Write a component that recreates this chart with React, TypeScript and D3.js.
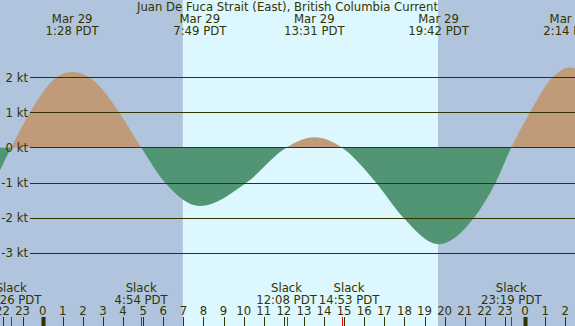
import React from "react";
import * as d3 from "d3";

const W = 575;
const H = 326;

const title = "Juan De Fuca Strait (East), British Columbia Current";

// hours relative to Mar 29 00:00 PDT, speed in knots
const curveHours = [-2.124, -1.567, -0.632, 0.697, 1.467, 2.318, 3.811, 4.9, 6.085, 7.817, 10.149, 12.133, 13.517, 14.883, 16.582, 17.94, 19.7, 21.473, 22.537, 23.317, 24.244, 25.373, 26.233, 28.0];
const curveKnots = [-0.65, 0, 1, 2, 2.15, 2, 1, 0, -1, -1.67, -1, 0, 0.29, 0, -1, -2, -2.76, -2, -1, 0, 1, 2, 2.28, 1.6];

const extremeHours = [1.467, 7.817, 13.517, 19.7, 26.233];
const extremeDates = ["Mar 29", "Mar 29", "Mar 29", "Mar 29", "Mar 30"];
const extremeLabels = ["1:28 PDT", "7:49 PDT", "13:31 PDT", "19:42 PDT", "2:14 PDT"];

const slackHours = [-1.567, 4.9, 12.133, 14.883, 23.317];
const slackLabels = ["22:26 PDT", "4:54 PDT", "12:08 PDT", "14:53 PDT", "23:19 PDT"];

const daylightStart = 6.97;
const daylightEnd = 19.67;

const yTicks = [2, 1, 0, -1, -2, -3];
const hourTicks = d3.range(-2, 27);

const NIGHT = "#b0c4de";
const DAY = "#ddf7fe";
const FLOOD = "#bf9b7a";
const EBB = "#529574";
const INK = "#333300";
const FONT = "'DejaVu Sans', sans-serif";
const FS = 11.7;

export default function App() {
  const x = d3.scaleLinear().domain([0, 24]).range([42.7, 525]);
  const y = d3.scaleLinear().domain([-3, 2]).range([252.7, 77.3]);
  const pts: [number, number][] = curveHours.map((h, i) => [h, curveKnots[i]]);
  const area = d3
    .area<[number, number]>()
    .x((d) => x(d[0]))
    .y0(y(0))
    .y1((d) => y(d[1]))
    .curve(d3.curveMonotoneX);
  const areaPath = area(pts) || "";
  const y0 = y(0);

  // slack label placement: push a label right if it would overlap the previous
  const charW = FS * 0.594;
  const slackX: number[] = [];
  slackHours.forEach((h, i) => {
    let cx = x(h);
    const w = slackLabels[i].length * charW;
    if (i > 0) {
      const pw = slackLabels[i - 1].length * charW;
      const prevRight = slackX[i - 1] + pw / 2;
      if (cx - w / 2 < prevRight) cx = prevRight + w / 2;
    }
    slackX.push(cx);
  });

  return (
    <svg
      width={W}
      height={H}
      style={{ position: "absolute", left: 0, top: 0, display: "block" }}
      fontFamily={FONT}
    >
      <defs>
        <clipPath id="above">
          <rect x={0} y={0} width={W} height={y0} />
        </clipPath>
        <clipPath id="below">
          <rect x={0} y={y0} width={W} height={H - y0} />
        </clipPath>
      </defs>
      <rect x={0} y={0} width={W} height={H} fill={NIGHT} />
      <rect
        x={x(daylightStart)}
        y={0}
        width={x(daylightEnd) - x(daylightStart)}
        height={H}
        fill={DAY}
      />
      <path d={areaPath} fill={FLOOD} clipPath="url(#above)" />
      <path d={areaPath} fill={EBB} clipPath="url(#below)" />

      {yTicks.map((t) => (
        <g key={t}>
          <line
            x1={30}
            x2={W}
            y1={Math.round(y(t)) + 0.5}
            y2={Math.round(y(t)) + 0.5}
            stroke={INK}
            strokeWidth={1}
          />
          <text x={28} y={y(t)} dy="0.36em" textAnchor="end" fontSize={FS} fill={INK}>
            {`${t} kt`}
          </text>
        </g>
      ))}

      <text x={287.5} y={11} textAnchor="middle" fontSize={FS} fill={INK}>
        {title}
      </text>

      {extremeHours.map((h, i) => (
        <g key={"e" + i}>
          <text x={x(h)} y={23.3} textAnchor="middle" fontSize={FS} fill={INK}>
            {extremeDates[i]}
          </text>
          <text x={x(h)} y={35.3} textAnchor="middle" fontSize={FS} fill={INK}>
            {extremeLabels[i]}
          </text>
        </g>
      ))}

      {slackHours.map((h, i) => (
        <g key={"s" + i}>
          <text x={slackX[i]} y={291.7} textAnchor="middle" fontSize={FS} fill={INK}>
            Slack
          </text>
          <text x={slackX[i]} y={303.7} textAnchor="middle" fontSize={FS} fill={INK}>
            {slackLabels[i]}
          </text>
        </g>
      ))}

      {hourTicks.map((h) => {
        const xx = Math.round(x(h)) + 0.5;
        const isMidnight = ((h % 24) + 24) % 24 === 0;
        return (
          <g key={"h" + h}>
            <text x={x(h)} y={315} textAnchor="middle" fontSize={FS} fill={INK}>
              {((h % 24) + 24) % 24}
            </text>
            <line
              x1={xx}
              x2={xx}
              y1={317}
              y2={H}
              stroke={INK}
              strokeWidth={isMidnight ? 4 : 1}
            />
          </g>
        );
      })}

      {slackHours.map((h, i) => {
        const xx = Math.round(x(h)) + 0.5;
        return (
          <line key={"r" + i} x1={xx} x2={xx} y1={317} y2={H} stroke="#ff0000" strokeWidth={1} />
        );
      })}
    </svg>
  );
}
